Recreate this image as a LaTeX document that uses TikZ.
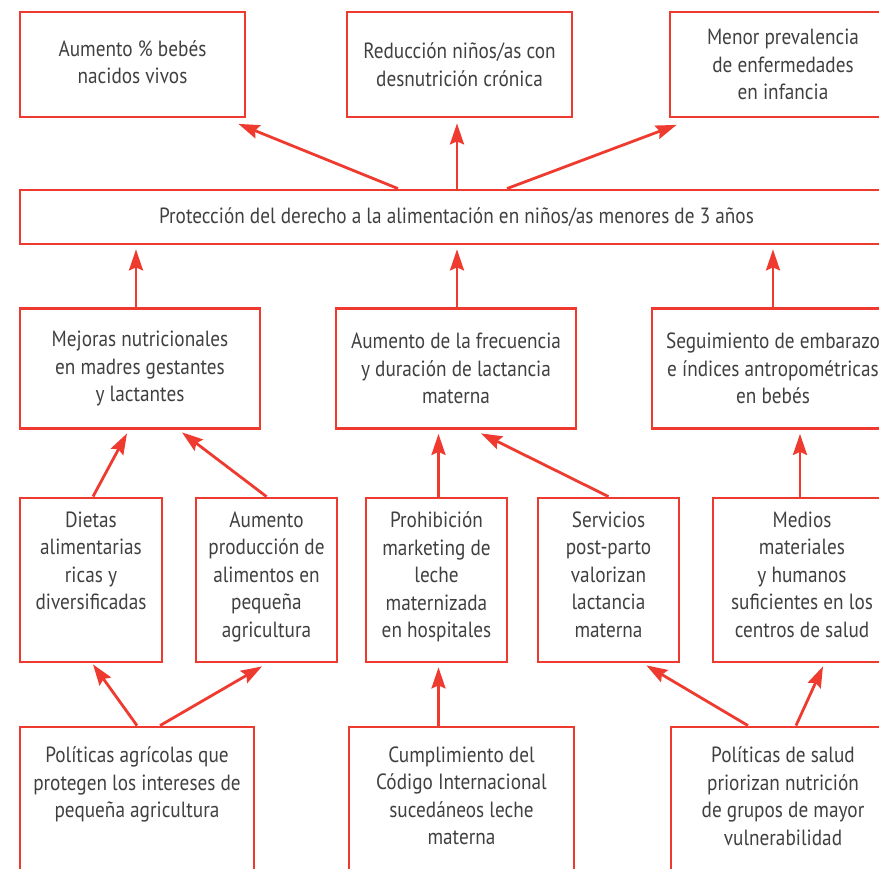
\documentclass[tikz,border=0pt]{standalone}
\usepackage{fontspec}
\setmainfont{PT Sans}[FakeStretch=0.875]
\usetikzlibrary{arrows.meta}
\usetikzlibrary{positioning}

\definecolor{LineRed}{HTML}{EE3A2F}
\definecolor{TextGray}{HTML}{404040}

\tikzset{
  caja/.style={draw=LineRed, line width=2.8pt, rectangle, inner sep=0pt},
  texto/.style={text=TextGray, align=center, inner sep=0pt,
    font=\fontsize{22}{27.5}\selectfont},
  flecha/.style={LineRed, line width=2.8pt,
    -{Stealth[length=21pt, width=14pt, inset=3pt]}},
}

\begin{document}
\begin{tikzpicture}[x=1pt, y=1pt]
  \useasboundingbox (0,0) rectangle (879,869);
  \clip (0,0) rectangle (879,869);

  % resultados
  \node[caja, texto, minimum width=225pt, minimum height=105pt] (a1) at (132.5,804.5)
    {Aumento \% bebés\\nacidos vivos\vphantom{p}};
  \node[caja, texto, minimum width=225pt, minimum height=105pt] (a2) at (459.5,804.5)
    {Reducción niños/as con\\desnutrición crónica};
  \node[caja, texto, minimum width=226pt, minimum height=105pt] (a3) at (783,804.5)
    {Menor prevalencia\\de enfermedades\\en infancia};

  \node[caja, texto, minimum width=873pt, minimum height=54pt] (p) at (456.5,652)
    {Protección del derecho a la alimentación en niños/as menores de 3 años};

  % efectos
  \node[caja, texto, minimum width=240pt, minimum height=120pt] (b1) at (140,500.5)
    {Mejoras nutricionales\\en madres gestantes\\y lactantes};
  \node[caja, texto, minimum width=240pt, minimum height=120pt] (b2) at (456,500.5)
    {Aumento de la frecuencia\\y duración de lactancia\\materna};
  \node[caja, texto, minimum width=242pt, minimum height=120pt] (b3) at (773,500.5)
    {Seguimiento de embarazo\\e índices antropométricas\\en bebés};

  % medios
  \node[caja, minimum width=142pt, minimum height=164pt] (c1) at (91,289) {};
  \node[caja, minimum width=141pt, minimum height=164pt] (c2) at (266.5,289) {};
  \node[caja, minimum width=141pt, minimum height=164pt] (c3) at (436.5,289) {};
  \node[caja, minimum width=141pt, minimum height=164pt] (c4) at (608.5,289) {};
  \node[caja, minimum width=178pt, minimum height=164pt] (c5) at (802,289) {};
  \node[texto, below=15pt of c1.north] (c1t) {Dietas\\alimentarias\\ricas y\\diversificadas};
  \node[texto, below=15pt of c2.north] (c2t) {Aumento\\producción de\\alimentos en\\pequeña\\agricultura};
  \node[texto, below=15pt of c3.north] (c3t) {Prohibición\\marketing de\\leche\\maternizada\\en hospitales};
  \node[texto, below=15pt of c4.north] (c4t) {Servicios\\post-parto\\valorizan\\lactancia\\materna};
  \node[texto, below=15pt of c5.north] (c5t) {Medios\\materiales\\y humanos\\suficientes en los\\centros de salud};

  % politicas
  \node[caja, minimum width=234pt, minimum height=200pt] (d1) at (137,42) {};
  \node[caja, minimum width=225pt, minimum height=200pt] (d2) at (461.5,42) {};
  \node[caja, minimum width=224pt, minimum height=200pt] (d3) at (783,42) {};
  \node[texto, below=21pt of d1.north] (d1t) {Políticas agrícolas que\\protegen los intereses de\\pequeña agricultura};
  \node[texto, below=21pt of d2.north] (d2t) {Cumplimiento del\\Código Internacional\\sucedáneos leche\\materna};
  \node[texto, below=21pt of d3.north] (d3t) {Políticas de salud\\priorizan nutrición\\de grupos de mayor\\vulnerabilidad};

  % flechas
  \draw[flecha] ([xshift=-58.5pt]p.north) -- ([shift={(-8,-5.5)}]a1.south east);
  \draw[flecha] ([xshift=-2.5pt]p.north -| a2.south) -- ([shift={(-2.5,-5)}]a2.south);
  \draw[flecha] ([xshift=50.5pt]p.north) -- ([shift={(8,-6.5)}]a3.south west);

  \draw[flecha] ([xshift=-4pt]b1.north) -- ([shift={(-4,-4)}]b1.north |- p.south);
  \draw[flecha] ([xshift=1pt]b2.north) -- ([shift={(1,-4)}]b2.north |- p.south);
  \draw[flecha] (b3.north) -- ([yshift=-4pt]b3.north |- p.south);

  \draw[flecha] ([xshift=2pt]c1.north) -- ([shift={(-13,-3.5)}]b1.south);
  \draw[flecha] (c2.north) -- ([shift={(42,-2.5)}]b1.south);
  \draw[flecha] ([xshift=2pt]c3.north) -- ([shift={(2,-4)}]c3.north |- b2.south);
  \draw[flecha] (c4.north) -- ([shift={(25,-3.5)}]b2.south);
  \draw[flecha] ([xshift=-2pt]c5.north) -- ([shift={(-2,-4)}]c5.north |- b3.south);

  \draw[flecha] (d1.north) -- ([shift={(2,-1)}]c1.south);
  \draw[flecha] ([xshift=23pt]d1.north) -- ([shift={(-4.5,-3)}]c2.south);
  \draw[flecha] ([xshift=2pt]c3.south |- d2.north) -- ([shift={(2,-4)}]c3.south);
  \draw[flecha] ([xshift=-35pt]d3.north) -- ([shift={(-34,-2)}]c4.south east);
  \draw[flecha] ([xshift=13pt]d3.north) -- ([shift={(21,-3)}]c5.south);
\end{tikzpicture}
\end{document}
